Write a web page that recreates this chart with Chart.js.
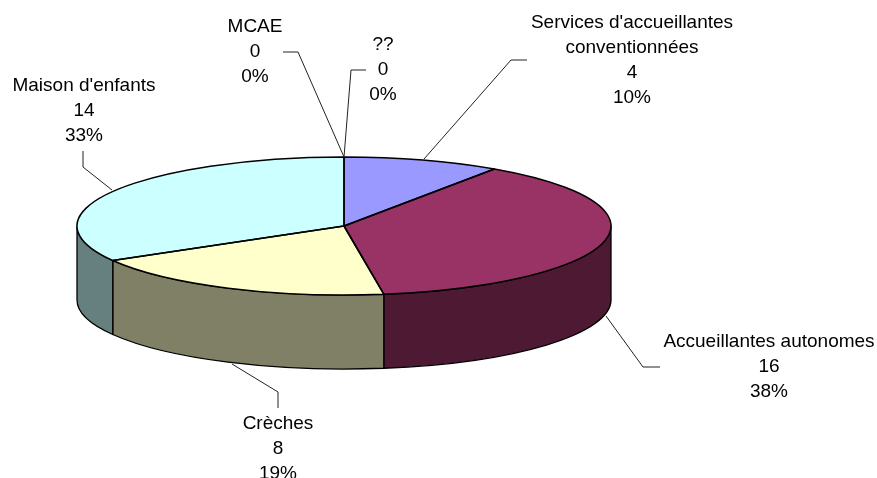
<!DOCTYPE html>
<html><head><meta charset="utf-8">
<style>html,body{margin:0;padding:0;background:#fff}canvas{display:block}</style>
<script src="https://cdn.jsdelivr.net/npm/chart.js@4"></script>
</head><body><canvas id="c" width="877" height="478"></canvas>
<script>
const categories = ["Services d'accueillantes conventionnées","Accueillantes autonomes","Crèches","Maison d'enfants","MCAE","??"];
const values = [4,16,8,14,0,0];
const topColors = ["#9999FF","#993366","#FFFFCC","#CCFFFF","#660066","#FF8080"];
const sideColors = ["#4D4D80","#4D1933","#808066","#668080","#330033","#804040"];
const labelLines = [["Services d'accueillantes","conventionnées"],["Accueillantes autonomes"],["Crèches"],["Maison d'enfants"],["MCAE"],["??"]];
const labelPos = [[632,23],[769,342],[278,424],[84,86],[255,27],[383,45]];
const leaders = [[[527,60],[511,60],[424,159]],[[660,367],[643,367],[606,316]],[[278,408],[278,392],[232,364]],[[83,151],[83,167],[112,190]],[[283,52],[298,52],[344,157]],[[366,70],[351,70],[344,157]]];
const squash = 69/267, depth = 74, lineGap = 25;
const total = values.reduce((a,b)=>a+b,0);

const pie3d = {
  id:'pie3d',
  beforeDatasetsDraw(chart){
    const ctx=chart.ctx, arcs=chart.getDatasetMeta(0).data;
    ctx.save();
    ctx.lineWidth=1.3; ctx.strokeStyle='#000'; ctx.lineJoin='round';
    arcs.forEach((a,i)=>{
      if(!values[i]) return;
      const s=Math.max(a.startAngle,0), e=Math.min(a.endAngle,Math.PI);
      if(e<=s) return;
      const ry=a.outerRadius*squash;
      ctx.beginPath();
      ctx.ellipse(a.x,a.y,a.outerRadius,ry,0,s,e);
      ctx.ellipse(a.x,a.y+depth,a.outerRadius,ry,0,e,s,true);
      ctx.closePath();
      ctx.fillStyle=sideColors[i];
      ctx.fill(); ctx.stroke();
    });
    ctx.restore();
    const a0=arcs[0];
    ctx.save();
    ctx.translate(a0.x,a0.y); ctx.scale(1,squash); ctx.translate(-a0.x,-a0.y);
  },
  afterDatasetsDraw(chart){
    const ctx=chart.ctx, arcs=chart.getDatasetMeta(0).data;
    ctx.restore();
    ctx.save();
    ctx.strokeStyle='#000'; ctx.lineWidth=1.5; ctx.lineJoin='round';
    arcs.forEach((a,i)=>{
      if(!values[i]) return;
      const ry=a.outerRadius*squash;
      ctx.beginPath();
      ctx.moveTo(a.x,a.y);
      ctx.ellipse(a.x,a.y,a.outerRadius,ry,0,a.startAngle,a.endAngle);
      ctx.closePath();
      ctx.stroke();
    });
    ctx.lineWidth=1; ctx.strokeStyle='#222';
    leaders.forEach(l=>{
      ctx.beginPath();
      l.forEach((p,j)=>j?ctx.lineTo(p[0],p[1]):ctx.moveTo(p[0],p[1]));
      ctx.stroke();
    });
    ctx.fillStyle='#000'; ctx.textAlign='center'; ctx.textBaseline='middle';
    ctx.font='19px "Liberation Sans", Arial, sans-serif';
    categories.forEach((c,i)=>{
      const lines=[...labelLines[i],String(values[i]),Math.round(values[i]/total*100)+'%'];
      lines.forEach((t,j)=>ctx.fillText(t,labelPos[i][0],labelPos[i][1]+j*lineGap));
    });
    ctx.restore();
  }
};

new Chart(document.getElementById('c'),{
  type:'pie',
  data:{labels:categories,datasets:[{data:values,backgroundColor:topColors,borderWidth:0,radius:267,clip:false}]},
  options:{
    responsive:false,animation:false,
    layout:{padding:{right:189,bottom:26}},
    plugins:{legend:{display:false},tooltip:{enabled:false}}
  },
  plugins:[pie3d]
});
</script></body></html>
